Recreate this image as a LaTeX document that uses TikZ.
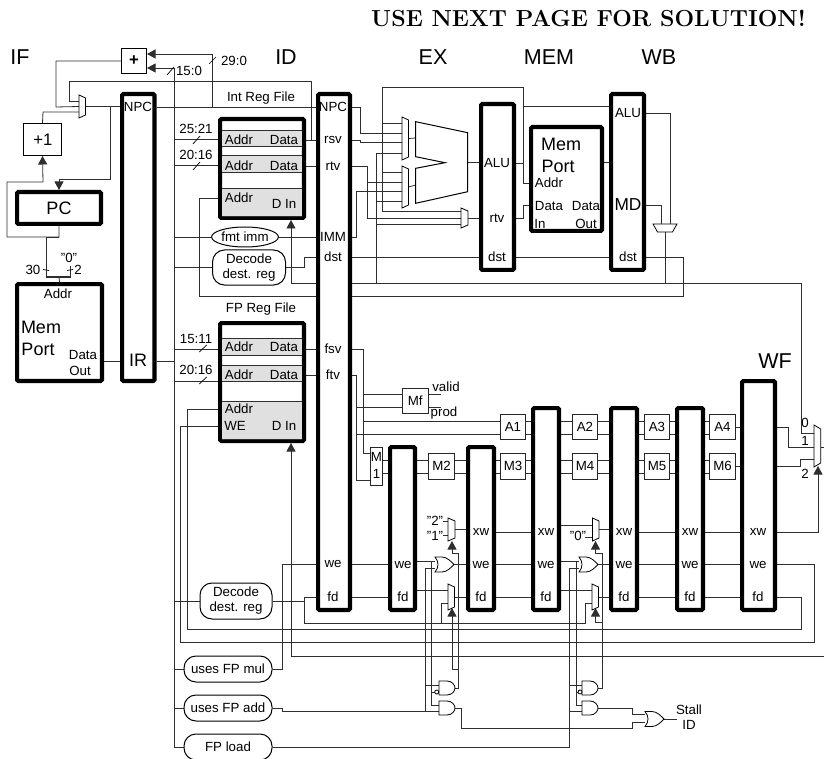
\documentclass[tikz,border=0pt]{standalone}
\usepackage{fontspec}
\setmainfont{Liberation Sans}
\newfontfamily\titlefont{Latin Modern Roman}
\usetikzlibrary{arrows.meta,shapes.geometric,backgrounds}
\definecolor{wirec}{gray}{0.18}
\definecolor{bandc}{gray}{0.88}
\tikzset{
  wire/.style={draw=wirec,line width=.8pt},
  arr/.style={wire,-{Triangle[length=8.5pt,width=9pt]}},
  gate/.style={draw=black,line width=.8pt,fill=white},
  tickm/.style={draw=black,line width=.7pt},
  pipereg/.style={draw=black,fill=white,line width=4.2pt,rounded corners=1.2pt,inner sep=0pt,outer sep=2.1pt},
  thinbox/.style={draw=black!85,fill=white,line width=.8pt,inner sep=0pt,outer sep=.4pt},
  medbox/.style={draw=black,fill=white,line width=1.3pt,inner sep=0pt,outer sep=.65pt},
  pill/.style={draw=black,fill=white,line width=1pt,rounded corners=12pt,inner sep=0pt,outer sep=.5pt,align=center,font=\sm},
  lbl/.style={inner sep=0pt,outer sep=0pt,font=\sm},
  big/.style={inner sep=0pt,outer sep=0pt,font=\bg},
  stage/.style={inner sep=0pt,outer sep=0pt,font=\st}
}
\newcommand\sm{\fontsize{13.3}{15}\selectfont}
\newcommand\bg{\fontsize{18}{20}\selectfont}
\newcommand\st{\fontsize{21.5}{24}\selectfont}
% outer-bounds box: name, style, x0,y0,x1,y1, inset (line width)
\newcommand\bx[7]{\node[#2,minimum width={(#5-#3-#7)*1pt},minimum height={(#6-#4-#7)*1pt}] (#1) at ({(#3+#5)/2},{(#4+#6)/2}) {};}
\newcommand\preg[5]{\bx{#1}{pipereg}{#2}{#3}{#4}{#5}{4.2}}
\newcommand\tbx[6]{\node[thinbox,minimum width={(#4-#2-.8)*1pt},minimum height={(#5-#3-.8)*1pt},font=\sm] (#1) at ({(#2+#4)/2},{(#3+#5)/2}) {#6};}
% mux opening right: name x0 x1 ytop ybot inset
\newcommand\mux[6]{\draw[gate] (#2,#4) -- (#3,{#4+#6}) -- (#3,{#5-#6}) -- (#2,#5) -- cycle;
  \coordinate (#1l) at (#2,{(#4+#5)/2}); \coordinate (#1r) at (#3,{(#4+#5)/2});}
\newcommand\andg[3]{\draw[gate] (#2,{#3-7}) -- ({#2+8},{#3-7}) .. controls ({#2+13},{#3-7}) and ({#2+16},{#3-3}) .. ({#2+16},#3) .. controls ({#2+16},{#3+3}) and ({#2+13},{#3+7}) .. ({#2+8},{#3+7}) -- (#2,{#3+7}) -- cycle;
  \coordinate (#1l) at (#2,#3); \coordinate (#1r) at ({#2+16},#3);}
\newcommand\org[3]{\draw[gate] (#2,{#3-7.5}) -- ({#2+7},{#3-7.5}) .. controls ({#2+12},{#3-7.5}) and ({#2+16},{#3-3}) .. ({#2+19},#3) .. controls ({#2+16},{#3+3}) and ({#2+12},{#3+7.5}) .. ({#2+7},{#3+7.5}) -- (#2,{#3+7.5}) .. controls ({#2+4},{#3+3}) and ({#2+4},{#3-3}) .. (#2,{#3-7.5}) -- cycle;
  \coordinate (#1l) at (#2,#3); \coordinate (#1r) at ({#2+19},#3);}
\begin{document}
\begin{tikzpicture}[x=1pt,y=-1pt]
\useasboundingbox (0,0) rectangle (824,759);
% ---------- titles
\node[inner sep=0pt,font=\titlefont\bfseries\fontsize{23.2}{26}\selectfont] (title) at (588.5,18) {USE NEXT PAGE FOR SOLUTION!};
\node[stage] (sIF) at (20,57) {IF};
\node[stage] (sID) at (286,57) {ID};
\node[stage] (sEX) at (433,57) {EX};
\node[stage] (sMEM) at (549,57) {MEM};
\node[stage] (sWB) at (659,57) {WB};
\node[stage] (sWF) at (775,361) {WF};
% ---------- pipeline registers and big blocks
\preg{r1}{120}{92}{156.5}{383}
\preg{r2}{316}{92}{352}{612}
\preg{r3}{479}{102}{516}{272}
\preg{r4}{609}{92}{646}{272}
\preg{pa}{388}{445}{417}{612}
\preg{pb}{466}{445}{496}{612}
\preg{pc}{531}{406}{561}{612}
\preg{pd}{609}{406}{639}{612}
\preg{pe}{675}{406}{705}{612}
\preg{wf}{740}{379}{777}{612}
\preg{pcb}{15}{190}{103}{226}
\preg{imem}{15}{282}{104}{383}
\preg{dmem}{529}{125}{604}{233}
\preg{irf}{218}{117}{306}{220}
\preg{frf}{218}{321}{306}{443}
\bx{plus}{medbox}{121}{48}{147}{74}{1.3}
\bx{inc}{medbox}{23}{123}{62}{156}{1.3}
% register file bands
\foreach \a/\b in {130/146,155/172,188/216}{\fill[bandc] (222,\a) rectangle (302,\b);
  \draw[wirec,line width=.8pt] (222,\a) -- (302,\a) (222,\b) -- (302,\b);}
\foreach \a/\b in {338/355,365/381,401/439}{\fill[bandc] (222,\a) rectangle (302,\b);
  \draw[wirec,line width=.8pt] (222,\a) -- (302,\a) (222,\b) -- (302,\b);}
% ---------- small function boxes
\tbx{mf}{402}{388}{428.5}{414}{Mf}
\tbx{a1}{500}{414}{526}{440}{A1}
\tbx{a2}{572}{414}{598}{440}{A2}
\tbx{a3}{644}{414}{670}{440}{A3}
\tbx{a4}{709}{414}{736}{440}{A4}
\tbx{m2}{428}{453}{455}{479.5}{M2}
\tbx{m3}{500}{453}{526}{479.5}{M3}
\tbx{m4}{572}{453}{598}{479.5}{M4}
\tbx{m5}{644}{453}{670}{479.5}{M5}
\tbx{m6}{709}{453}{736}{479.5}{M6}
\tbx{m1}{369.5}{447}{383}{486}{}
\node[lbl] (m1a) at (376.5,457) {M};
\node[lbl] (m1b) at (376.5,474) {1};
% ---------- decoders
\node[draw=black,fill=white,line width=1pt,ellipse,inner sep=0pt,outer sep=.5pt,minimum width=66pt,minimum height=20pt,font=\sm] (fmt) at (245,237) {fmt imm};
\node[pill,minimum width=73pt,minimum height=35pt] (dec1) at (249,267.5) {Decode\\dest. reg};
\node[pill,minimum width=72pt,minimum height=36pt] (dec2) at (236,601) {Decode\\dest. reg};
\node[pill,minimum width=88pt,minimum height=26pt] (umul) at (228,669) {uses FP mul};
\node[pill,minimum width=88pt,minimum height=26pt] (uadd) at (228,708) {uses FP add};
\node[pill,minimum width=88pt,minimum height=26pt] (fpl) at (228,747) {FP load};
% ---------- muxes and ALU
\mux{m0}{79}{85.5}{95}{118}{3}
\mux{mx1}{402}{408.5}{117}{160}{3}
\mux{mx2}{402}{408.5}{166}{208}{3}
\mux{mx3}{461}{468}{208}{228}{3}
\mux{mxw1}{448}{455}{518}{541}{3}
\mux{mxw2}{592.5}{599}{518}{541}{3}
\mux{mfd1}{448}{454.5}{584}{610}{3}
\mux{mfd2}{592}{598.5}{584}{610}{3}
\mux{mwf}{814}{820.7}{425}{467}{4}
\draw[gate] (653,224) -- (677,224) -- (672.5,232) -- (657.5,232) -- cycle;
\coordinate (mwb) at (665,232);
\draw[gate,line width=1pt] (415.7,121.7) -- (467.7,132.7) -- (467.7,191.7) -- (415.7,203.3) -- (415.7,168.3) -- (445,162.7) -- (415.7,156.7) -- cycle;
\coordinate (aluo) at (467.7,162.7);
\coordinate (alua) at (415.7,138);
\coordinate (alub) at (415.7,185);
\org{o1}{435}{564.5}
\org{o2}{579}{564.5}
\org{o3}{645}{719}
\andg{g1}{439}{688}
\andg{g2}{439}{708}
\andg{g3}{582}{688}
\andg{g4}{582}{708}
\draw[gate] (436.7,692) circle (2pt);
\draw[gate] (580,692) circle (2pt);
% ---------- text
\node[big,font=\fontsize{16.7}{18}\selectfont] (inctxt) at (43,139.5) {+1};
\node[inner sep=0pt,font=\bfseries\fontsize{16.7}{18}\selectfont] (plustxt) at (134,61) {+};
\node[big] (pctxt) at (59,208) {PC};
\node[lbl] (ia) at (58,294) {Addr};
\node[big] (imem1) at (41,327) {Mem};
\node[big] (imem2) at (38,349) {Port};
\node[lbl] (id1) at (83,355) {Data};
\node[lbl] (id2) at (80,371) {Out};
\node[big] (irtxt) at (138,360) {IR};
\node[lbl] (t1) at (138,107) {NPC};
\node[lbl] (t2) at (333,107) {NPC};
\node[lbl] (t3) at (333,140) {rsv};
\node[lbl] (t4) at (333,166) {rtv};
\node[lbl] (t5) at (333,237) {IMM};
\node[lbl] (t6) at (333,257) {dst};
\node[lbl] (t7) at (333,349) {fsv};
\node[lbl] (t8) at (333,375) {ftv};
\node[lbl] (t9) at (333,564) {we};
\node[lbl] (t10) at (333,597) {fd};
\node[lbl] (t11) at (497,163) {ALU};
\node[lbl] (t12) at (497,218) {rtv};
\node[lbl] (t13) at (497,257) {dst};
\node[lbl] (t14) at (628,113) {ALU};
\node[big,font=\fontsize{17.3}{19}\selectfont] (t15) at (628,205) {MD};
\node[lbl] (t16) at (628,257) {dst};
\node[lbl] (irl) at (261,98) {Int Reg File};
\node[lbl] (frl) at (261,309) {FP Reg File};
\node[lbl] (r1a) at (239,140) {Addr};
\node[lbl] (r1d) at (284,140) {Data};
\node[lbl] (r2a) at (239,165.5) {Addr};
\node[lbl] (r2d) at (284,165.5) {Data};
\node[lbl] (r3a) at (239,198) {Addr};
\node[lbl] (r3d) at (284,204) {D In};
\node[lbl] (f1a) at (239,347) {Addr};
\node[lbl] (f1d) at (284,347) {Data};
\node[lbl] (f2a) at (239,375) {Addr};
\node[lbl] (f2d) at (284,375) {Data};
\node[lbl] (f3a) at (239,409) {Addr};
\node[lbl] (f3w) at (235,426) {WE};
\node[lbl] (f3d) at (284,426) {D In};
\node[big] (dm1) at (561,144) {Mem};
\node[big] (dm2) at (558,166) {Port};
\node[lbl] (da) at (549,183) {Addr};
\node[lbl] (dd1) at (549,206) {Data};
\node[lbl] (dd2) at (540,224) {In};
\node[lbl] (dd3) at (586,206) {Data};
\node[lbl] (dd4) at (586,224) {Out};
\foreach \n/\x in {b/481,c/546,d/624,e/690,f/758}{
  \node[lbl] (xw\n) at (\x,532) {xw};}
\foreach \n/\x in {a/403,b/481,c/546,d/624,e/690,f/758}{
  \node[lbl] (we\n) at (\x,564.5) {we};
  \node[lbl] (fd\n) at (\x,597) {fd};}
\node[lbl] (q25) at (196,129) {25:21};
\node[lbl] (q20) at (196,155) {20:16};
\node[lbl] (q15) at (196,339) {15:11};
\node[lbl] (q20b) at (196,370) {20:16};
\node[lbl] (q29) at (234,61) {29:0};
\node[lbl] (q150) at (189,70.5) {15:0};
\node[lbl] (q30) at (33,270) {30};
\node[lbl] (q2) at (78,270) {2};
\node[lbl] (q0) at (69,258) {"0"};
\node[lbl] (qv) at (446,387) {valid};
\node[lbl] (qp) at (444,413) {prod};
\node[lbl] (q20a) at (435,521) {"2"};
\node[lbl] (q10a) at (435,536) {"1"};
\node[lbl] (q00a) at (578,536) {"0"};
\node[lbl] (qw0) at (805,423) {0};
\node[lbl] (qw1) at (805,441) {1};
\node[lbl] (qw2) at (805,474) {2};
\node[lbl] (stl) at (689,710) {Stall};
\node[lbl] (sti) at (689,725) {ID};
% ---------- wires (behind everything)
\begin{scope}[on background layer]
\coordinate (bus) at (174,400);
\coordinate (fw) at (376,283);
% IF stage
\draw[wire] (r1.east |- 0,107) -- (r2.west |- 0,107);
\draw[arr] (212,107) -- (212,54) -- (plus.east |- 0,54);
\draw[arr] (bus |- 0,747) -- (174,68) -- (plus.east |- 0,68);
\draw[wire] (plus.west) -- (56,61) -- (56,107) -- (m0l);
\draw[wire] (m0r) -- (r1.west |- m0r);
\draw[arr] (110,107) -- (110,179) -- (59,179) -- (pcb.north);
\draw[wire] (inc.north) -- (43,112) -- (m0l |- 0,112);
\draw[arr] (pcb.south) -- (59,237) -- (7,237) -- (7,182) -- (43,182) -- (inc.south);
\draw[wire] (59,237) -- (46,237) -- (46,277);
\draw[wire] (70,266) -- (70,277);
\draw[wire,line width=1.6pt] (45.5,277) -- (70.5,277);
\draw[wire] (59,277) -- (imem.north);
\draw[wire] (imem.east |- 0,361) -- (r1.west |- 0,361);
\draw[wire] (r1.east |- 0,361) -- (bus |- 0,361);
% branch target back to fetch mux
\draw[wire] (m0l |- 0,101) -- (69,101) -- (69,81) -- (311,81) -- (311,140) -- (r2.west |- 0,140);
% bus taps
\draw[wire] (bus |- 0,139.5) -- (irf.west |- 0,139.5);
\draw[wire] (bus |- 0,165.5) -- (irf.west |- 0,165.5);
\draw[wire] (bus |- fmt.west) -- (fmt.west);
\draw[wire] (bus |- dec1.west) -- (dec1.west);
\draw[wire] (bus |- 0,349) -- (frf.west |- 0,349);
\draw[wire] (bus |- 0,381) -- (frf.west |- 0,381);
\draw[wire] (bus |- dec2.west) -- (dec2.west);
\draw[wire] (bus |- umul.west) -- (umul.west);
\draw[wire] (bus |- uadd.west) -- (uadd.west);
\draw[wire] (bus |- fpl.west) -- (fpl.west);
% reg file outputs
\draw[wire] (irf.east |- 0,166) -- (r2.west |- 0,166);
\draw[wire] (irf.east |- 0,140) -- (r2.west |- 0,140);
\draw[wire] (frf.east |- 0,349) -- (r2.west |- 0,349);
\draw[wire] (frf.east |- 0,375) -- (r2.west |- 0,375);
\draw[wire] (fmt.east) -- (r2.west |- fmt.east);
\draw[wire] (dec1.east) -- (304,267.5) -- (304,257) -- (r2.west |- 0,257);
% reg write address and data
\draw[wire] (irf.west |- 0,198) -- (199,198) -- (199,296) -- (683,296) -- (683,257) -- (r4.east |- 0,257);
\draw[arr] (801,433) -- (801,283) -- (291,283) -- (irf.south -| 291,0);
\draw[wire] (mwfl |- 0,433) -- (801,433);
\draw[wire] (mwb) -- (665,283);
% EX bypass
\draw[wire] (r2.east |- 0,107) -- (360,107) -- (360,133) -- (mx1l |- 0,133);
\draw[wire] (r2.east |- 0,140) -- (360,140) -- (360,142.5) -- (mx1l |- 0,142.5);
\draw[wire] (fw) -- (376,153) -- (mx1l |- 0,153);
\draw[wire] (376,201) -- (mx2l |- 0,201);
\draw[wire] (376,224) -- (mx3l |- 0,224);
\draw[wire] (mx3l |- 0,211) -- (382.5,211) -- (382.5,87) -- (523,87) -- (523,183) -- (dmem.west |- 0,183);
\draw[wire] (382.5,123) -- (mx1l |- 0,123);
\draw[wire] (382.5,172) -- (mx2l |- 0,172);
\draw[wire] (523,106) -- (r4.west |- 0,106);
\draw[wire] (r2.east |- 0,166) -- (367,166) -- (367,218) -- (mx3l |- 0,218);
\draw[wire] (367,182) -- (mx2l |- 0,182);
\draw[wire] (r2.east |- 0,237) -- (356.5,237) -- (356.5,191) -- (mx2l |- 0,191);
\draw[wire] (mx1r) -- (alua);
\draw[wire] (mx2r) -- (alub);
\draw[wire] (aluo) -- (r3.west |- aluo);
\draw[wire] (mx3r) -- (r3.west |- mx3r);
\draw[wire] (r3.east |- 0,163) -- (523,163);
\draw[wire] (r3.east |- 0,218) -- (523,218) -- (523,205) -- (dmem.west |- 0,205);
\draw[wire] (r2.east |- 0,257) -- (r3.west |- 0,257);
\draw[wire] (r3.east |- 0,257) -- (r4.west |- 0,257);
\draw[wire] (dmem.east |- 0,162.5) -- (r4.west |- 0,162.5);
\draw[wire] (r4.east |- 0,113) -- (670,113) -- (670,224);
\draw[wire] (r4.east |- 0,205) -- (661,205) -- (661,224);
% FP register file control
\draw[wire] (frf.west |- 0,409) -- (187,409) -- (187,629) -- (801,629) -- (801,597) -- (wf.east |- 0,597);
\draw[wire] (frf.west |- 0,426) -- (180,426) -- (180,642.5) -- (814,642.5) -- (814,564.5) -- (wf.east |- 0,564.5);
\draw[arr] (824,447) -- (824,656) -- (291,656) -- (frf.south -| 291,0);
% FP operands
\draw[wire] (r2.east |- 0,349) -- (363,349) -- (363,453) -- (m1.west |- 0,453);
\draw[wire] (363,394) -- (mf.west |- 0,394);
\draw[wire] (363,421) -- (a1.west |- 0,421);
\draw[wire] (r2.east |- 0,375) -- (356.5,375) -- (356.5,480) -- (m1.west |- 0,480);
\draw[wire] (356.5,407.5) -- (mf.west |- 0,407.5);
\draw[wire] (356.5,434) -- (a1.west |- 0,434);
\draw[wire] (mf.east |- 0,394) -- (441,394);
\draw[wire] (mf.east |- 0,407.5) -- (441,407.5);
% two-wire links between function units
\foreach \y in {460,473}{
  \draw[wire] (m1.east |- 0,\y) -- (pa.west |- 0,\y);
  \draw[wire] (pa.east |- 0,\y) -- (m2.west |- 0,\y);
  \draw[wire] (m2.east |- 0,\y) -- (pb.west |- 0,\y);
  \draw[wire] (pb.east |- 0,\y) -- (m3.west |- 0,\y);
  \draw[wire] (m3.east |- 0,\y) -- (pc.west |- 0,\y);
  \draw[wire] (pc.east |- 0,\y) -- (m4.west |- 0,\y);
  \draw[wire] (m4.east |- 0,\y) -- (pd.west |- 0,\y);
  \draw[wire] (pd.east |- 0,\y) -- (m5.west |- 0,\y);
  \draw[wire] (m5.east |- 0,\y) -- (pe.west |- 0,\y);
  \draw[wire] (pe.east |- 0,\y) -- (m6.west |- 0,\y);}
\foreach \y in {421,434}{
  \draw[wire] (a1.east |- 0,\y) -- (pc.west |- 0,\y);
  \draw[wire] (pc.east |- 0,\y) -- (a2.west |- 0,\y);
  \draw[wire] (a2.east |- 0,\y) -- (pd.west |- 0,\y);
  \draw[wire] (pd.east |- 0,\y) -- (a3.west |- 0,\y);
  \draw[wire] (a3.east |- 0,\y) -- (pe.west |- 0,\y);
  \draw[wire] (pe.east |- 0,\y) -- (a4.west |- 0,\y);}
\draw[wire] (a4.east |- 0,427) -- (wf.west |- 0,427);
\draw[wire] (m6.east |- 0,466) -- (wf.west |- 0,466);
\draw[wire] (wf.east |- 0,427) -- (788,427) -- (788,447) -- (mwfl |- 0,447);
\draw[wire] (wf.east |- 0,466) -- (800.5,466) -- (800.5,459.5) -- (mwfl |- 0,459.5);
\draw[wire] (mwfr |- 0,447) -- (824,447);
\draw[arr] (wf.east |- 0,532) -- (818,532) -- (818,466);
% xw
\draw[wire] (443,521) -- (mxw1l |- 0,521);
\draw[wire] (443,535) -- (mxw1l |- 0,535);
\draw[wire] (mxw1r) -- (pb.west |- mxw1r);
\draw[wire] (pb.east |- 0,532) -- (pc.west |- 0,532);
\draw[wire] (pc.east |- 0,525) -- (mxw2l |- 0,525);
\draw[wire] (585,537) -- (mxw2l |- 0,537);
\draw[wire] (mxw2r) -- (pd.west |- mxw2r);
\draw[wire] (pd.east |- 0,532) -- (pe.west |- 0,532);
\draw[wire] (pe.east |- 0,532) -- (wf.west |- 0,532);
% we
\draw[wire] (umul.east) -- (282,669) -- (282,564.5) -- (r2.west |- 0,564.5);
\draw[wire] (r2.east |- 0,564.5) -- (pa.west |- 0,564.5);
\draw[wire] (pa.east |- 0,561) -- (o1l |- 0,561);
\draw[wire] (o1r) -- (pb.west |- o1r);
\draw[wire] (pb.east |- 0,564.5) -- (pc.west |- 0,564.5);
\draw[wire] (pc.east |- 0,561) -- (o2l |- 0,561);
\draw[wire] (o2r) -- (pd.west |- o2r);
\draw[wire] (pd.east |- 0,564.5) -- (pe.west |- 0,564.5);
\draw[wire] (pe.east |- 0,564.5) -- (wf.west |- 0,564.5);
% fd
\draw[wire] (dec2.east) -- (304,601);
\draw[wire] (r2.west |- 0,597) -- (304,597) -- (304,623) -- (585,623) -- (585,603) -- (mfd2l |- 0,603);
\draw[wire] (r2.east |- 0,597) -- (pa.west |- 0,597);
\draw[wire] (pa.east |- 0,590.5) -- (mfd1l |- 0,590.5);
\draw[wire] (441.5,623) -- (441.5,603) -- (mfd1l |- 0,603);
\draw[wire] (mfd1r) -- (pb.west |- mfd1r);
\draw[wire] (pb.east |- 0,597) -- (pc.west |- 0,597);
\draw[wire] (pc.east |- 0,590.5) -- (mfd2l |- 0,590.5);
\draw[wire] (mfd2r) -- (pd.west |- mfd2r);
\draw[wire] (pd.east |- 0,597) -- (pe.west |- 0,597);
\draw[wire] (pe.east |- 0,597) -- (wf.west |- 0,597);
% stall logic, first group
\draw[wire] (uadd.east) -- (282,708) -- (282,711) -- (g2l |- 0,711);
\draw[wire] (o1l |- 0,568) -- (425,568) -- (425,711);
\draw[wire] (425,685) -- (g1l |- 0,685);
\draw[wire] (431.5,561) -- (431.5,705) -- (g2l |- 0,705);
\draw[wire] (431.5,692) -- (434.7,692);
\draw[arr] (g1r) -- (458,688) -- (458,553) -- (452,553) -- (452,541);
\draw[arr] (458,669) -- (452,669) -- (452,608);
% stall logic, second group
\draw[wire] (fpl.east) -- (569.3,747) -- (569.3,568) -- (o2l |- 0,568);
\draw[wire] (569.3,685) -- (g3l |- 0,685);
\draw[wire] (569.3,711) -- (g4l |- 0,711);
\draw[wire] (576,561) -- (576,705) -- (g4l |- 0,705);
\draw[wire] (576,692) -- (578,692);
\draw[arr] (g3r) -- (602,688) -- (602,553) -- (595.5,553) -- (595.5,541);
\draw[arr] (602,622) -- (595.5,622) -- (595.5,608);
% stall output
\draw[wire] (g4r) -- (632,708) -- (632,714.5) -- (o3l |- 0,714.5);
\draw[wire] (g2r) -- (461,708) -- (461,728) -- (632,728) -- (632,722) -- (o3l |- 0,722);
\draw[wire] (o3r) -- (677,719);
% tick marks
\draw[tickm] (193,144) -- (200,136);
\draw[tickm] (193,170) -- (200,162);
\draw[tickm] (199.3,352) -- (206.7,345);
\draw[tickm] (199.3,384) -- (206.7,377);
\draw[tickm] (209,64) -- (216,57);
\draw[tickm] (167,75) -- (174,67);
\draw[tickm] (43,269.5) -- (49,270.5);
\draw[tickm] (67,270.5) -- (73,269.5);
\end{scope}
\end{tikzpicture}
\end{document}
